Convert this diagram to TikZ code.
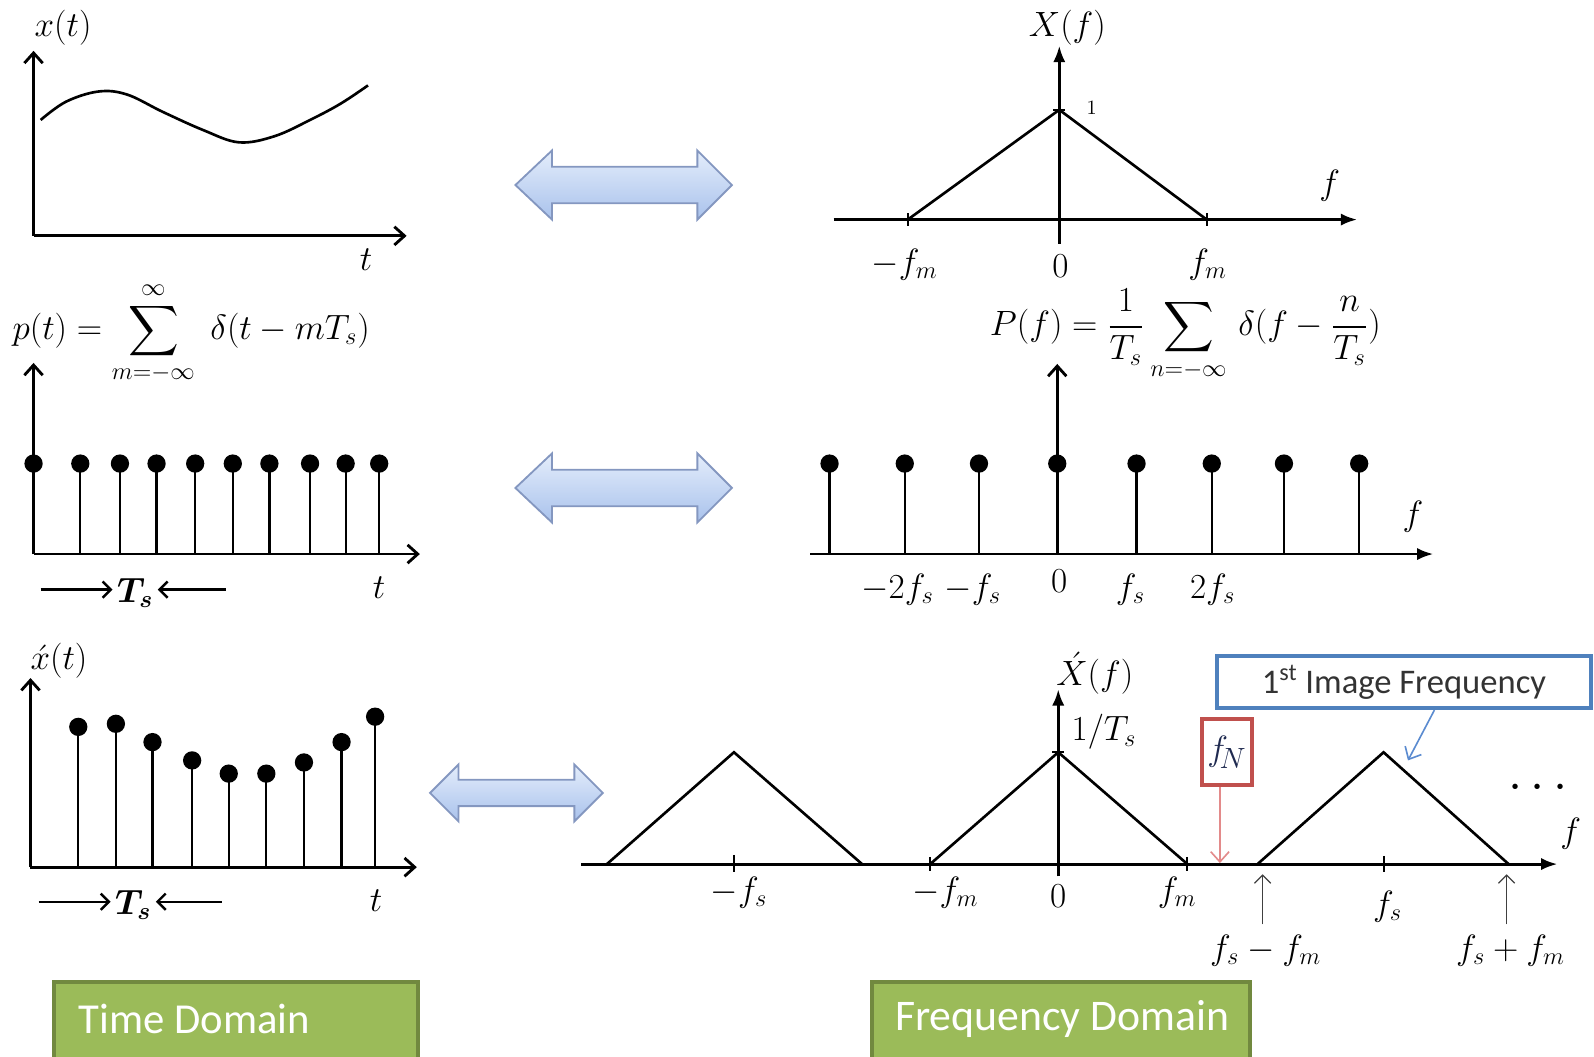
\documentclass[tikz,border=0pt]{standalone}
\usepackage{amsmath}
\usepackage{fontspec}
\newfontfamily\calib{Carlito}
\usetikzlibrary{arrows.meta}
\definecolor{arrtop}{HTML}{E4EDFB}
\definecolor{arrbot}{HTML}{A9C2EC}
\definecolor{arredge}{HTML}{8497C0}
\definecolor{gfill}{HTML}{9BBB59}
\definecolor{gedge}{HTML}{71893F}
\definecolor{fnred}{HTML}{C0504D}
\definecolor{fnarr}{HTML}{E38A8A}
\definecolor{imgblue}{HTML}{4F81BD}
\definecolor{imgarr}{HTML}{5B8BD0}
\definecolor{fntext}{HTML}{1F2A50}
\begin{document}
\begin{tikzpicture}[x=0.5pt,y=-0.5pt,
  faxis/.style={line width=1.4pt,-{Latex[length=8pt,width=6pt]}},
  baxis/.style={line width=1.4pt,-{Straight Barb[length=5pt,width=9pt,line width=1.4pt]}},
  stem/.style={line width=1.1pt},
  ball/.style={circle,fill=black,inner sep=0pt,minimum size=9pt},
  lbl/.style={font=\fontsize{17}{20}\selectfont,inner sep=0pt},
  slbl/.style={font=\fontsize{10}{12}\selectfont,inner sep=0pt},
  dbl/.style={draw=arredge,line width=0.9pt,top color=arrtop,bottom color=arrbot},
  tsarr/.style={line width=1.2pt,-{Straight Barb[length=4pt,width=8pt,line width=1.2pt]}},
  thinup/.style={line width=0.6pt,draw=black!75,-{Straight Barb[length=4pt,width=8pt,line width=0.6pt]}},
  gbox/.style={draw=gedge,line width=2pt,fill=gfill},
  gtext/.style={font=\calib\fontsize{21}{24}\selectfont,text=white,inner sep=0pt,anchor=west}
]
\useasboundingbox (0,0) rectangle (1568,1039);

% ---------------- Panel 1: x(t)
\draw[baxis] (33,232) -- (33,50);
\draw[baxis] (33,232) -- (400,232);
\node[lbl] (xt) at (62,27) {$x(t)$};
\node[lbl] (t1) at (360,255) {$t$};
\draw[line width=1.3pt] plot[smooth,tension=0.6] coordinates {(40,118) (65,100) (97,90) (125,93) (160,110) (200,128) (235,140) (270,134) (305,118) (335,102) (362,84)};

% ---------------- Double arrows
\path[dbl] (507,182) -- (543,148) -- (543,164) -- (686,164) -- (686,148) -- (720,182) -- (686,216) -- (686,200) -- (543,200) -- (543,216) -- cycle;
\path[dbl] (507,480) -- (543,446) -- (543,462) -- (686,462) -- (686,446) -- (720,480) -- (686,514) -- (686,498) -- (543,498) -- (543,514) -- cycle;
\path[dbl] (423,780) -- (451,752) -- (451,767) -- (565,767) -- (565,752) -- (593,780) -- (565,808) -- (565,793) -- (451,793) -- (451,808) -- cycle;

% ---------------- Panel 2: X(f)
\draw[faxis] (820,216) -- (1335,216);
\draw[faxis] (1042,240) -- (1042,45);
\draw[line width=1.3pt] (893,216) -- (1042,108) -- (1187,216);
\draw[line width=1pt] (893,210) -- (893,222) (1187,210) -- (1187,222) (1036,108) -- (1048,108);
\node[lbl] (Xf) at (1050,27) {$X(f)$};
\node[slbl] (one) at (1074,106) {$1$};
\node[lbl] (f2) at (1308,183) {$f$};
\node[lbl] (mfm) at (890,260) {$-f_m$};
\node[lbl] (z2) at (1043,262) {$0$};
\node[lbl] (fm2) at (1188,260) {$f_m$};

% ---------------- Panel 3: p(t)
\node[lbl,anchor=west] (pt) at (12,328) {$\displaystyle p(t)=\sum_{m=-\infty}^{\infty}\;\delta(t-mT_s)$};
\draw[baxis] (33,545) -- (33,357);
\draw[baxis] (33,545) -- (413,545);
\foreach \x [count=\i] in {33,79,118,154,192,229,265,305,340,373}{
  \node[ball] (pb\i) at (\x,456) {};
  \draw[stem] (\x,545) -- (pb\i.center);
}
\node[lbl] (ts1) at (133,583) {$\boldsymbol{T_s}$};
\coordinate (ts1l) at (40,580);
\coordinate (ts1r) at (222,580);
\draw[tsarr] (ts1l) -- ([xshift=-2pt]ts1.west |- ts1l);
\draw[tsarr] (ts1r) -- ([xshift=2pt]ts1.east |- ts1r);
\node[lbl] (t3) at (373,578) {$t$};

% ---------------- Panel 4: P(f)
\node[lbl] (Pf) at (1166,330) {$\displaystyle P(f)=\frac{1}{T_s}\sum_{n=-\infty}\,\delta(f-\frac{n}{T_s})$};
\draw[faxis] (797,545) -- (1410,545);
\draw[baxis] (1040,545) -- (1040,358);
\foreach \x [count=\i] in {816,890,963,1040,1118,1192,1263,1337}{
  \node[ball] (qb\i) at (\x,456) {};
  \draw[stem] (\x,545) -- (qb\i.center);
}
\node[lbl] (m2fs) at (883,580) {$-2f_s$};
\node[lbl] (mfs4) at (957,580) {$-f_s$};
\node[lbl] (z4) at (1042,572) {$0$};
\node[lbl] (fs4) at (1112,580) {$f_s$};
\node[lbl] (tfs4) at (1193,580) {$2f_s$};
\node[lbl] (f4) at (1390,508) {$f$};

% ---------------- Panel 5: x'(t)
\node[lbl] (xst) at (58,650) {$\acute{x}(t)$};
\draw[baxis] (30,853) -- (30,667);
\draw[baxis] (30,853) -- (410,853);
\foreach \x/\y [count=\i] in {77/715,114/712,150/730,189/748,225/761,262/761,299/750,336/730,369/705}{
  \node[ball] (sb\i) at (\x,\y) {};
  \draw[stem] (\x,853) -- (sb\i.center);
}
\node[lbl] (ts5) at (131,890) {$\boldsymbol{T_s}$};
\coordinate (ts5l) at (38,887);
\coordinate (ts5r) at (218,887);
\draw[tsarr] (ts5l) -- ([xshift=-2pt]ts5.west |- ts5l);
\draw[tsarr] (ts5r) -- ([xshift=2pt]ts5.east |- ts5r);
\node[lbl] (t5) at (370,886) {$t$};

% ---------------- Panel 6: X'(f)
\draw[faxis] (572,850) -- (1532,850);
\draw[faxis] (1041,862) -- (1041,678);
\draw[line width=1.3pt] (597,850) -- (722,740) -- (848,850);
\draw[line width=1.3pt] (915,850) -- (1041,740) -- (1168,850);
\draw[line width=1.3pt] (1237,850) -- (1361,740) -- (1484,850);
\draw[line width=1pt] (722,841) -- (722,858) (915,843) -- (915,857) (1168,843) -- (1168,857) (1361,842) -- (1361,858) (1035,740) -- (1047,740);
\node[lbl] (Xsf) at (1077,662) {$\acute{X}(f)$};
\node[lbl] (invT) at (1086,720) {$1/T_s$};
\node[lbl] (mfs6) at (727,878) {$-f_s$};
\node[lbl] (mfm6) at (930,878) {$-f_m$};
\node[lbl] (z6) at (1041,882) {$0$};
\node[lbl] (fm6) at (1158,878) {$f_m$};
\node[lbl] (fs6) at (1365,892) {$f_s$};
\node[lbl] (f6) at (1545,820) {$f$};
\node[lbl,font=\fontsize{24}{24}\selectfont] (dots) at (1517,775) {$\cdots$};
\coordinate (lo1) at (1242,860);
\coordinate (lo2) at (1482,860);
\node[lbl] (fsmfm) at (1245,935) {$f_s-f_m$};
\node[lbl] (fspfm) at (1486,935) {$f_s+f_m$};
\draw[thinup] (lo1 |- fsmfm.north) ++(0,-10) -- (lo1);
\draw[thinup] (lo2 |- fspfm.north) ++(0,-10) -- (lo2);

% f_N box
\node[draw=fnred,line width=2pt,minimum width=24.5pt,minimum height=32.5pt,inner sep=0pt,text=fntext,font=\fontsize{19}{21}\selectfont] (fN) at (1207,740) {$f_{\!N}$};
\coordinate (fNpt) at (1200,849);
\draw[fnarr,line width=0.8pt,-{Straight Barb[length=5pt,width=9pt,line width=0.8pt]}] (fNpt |- fN.south) -- (fNpt);

% 1st image frequency box
\node[draw=imgblue,line width=2pt,minimum width=184pt,minimum height=25.5pt,inner sep=0pt,text=black!80,font=\calib\fontsize{17}{20}\selectfont] (img) at (1381,671) {1\textsuperscript{st} Image Frequency};
\coordinate (imgtip) at (1385,748);
\draw[imgarr,line width=0.8pt,-{Straight Barb[length=5pt,width=9pt,line width=0.8pt]}] ([xshift=15pt]img.south) -- (imgtip);

% ---------------- Domain boxes
\draw[gbox] (53,966) rectangle (411,1048);
\node[gtext] (td) at (77,1002) {Time Domain};
\draw[gbox] (858,966) rectangle (1230,1048);
\node[gtext,font=\calib\fontsize{21.5}{24}\selectfont] (fd) at (880,1002) {Frequency Domain};
\end{tikzpicture}
\end{document}
